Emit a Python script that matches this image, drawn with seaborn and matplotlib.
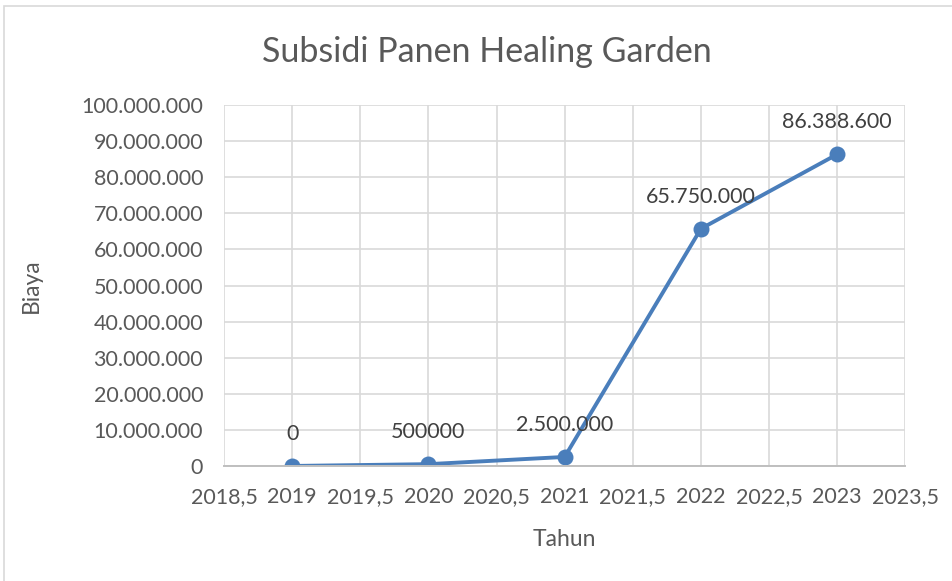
import seaborn as sns
import pandas as pd
import matplotlib.pyplot as plt
from matplotlib.ticker import FuncFormatter, MultipleLocator
from matplotlib.patches import Rectangle

tahun = [2019, 2020, 2021, 2022, 2023]
biaya = [0, 500000, 2500000, 65750000, 86388600]
label_titik = ["0", "500000", "2.500.000", "65.750.000", "86.388.600"]

df = pd.DataFrame({"Tahun": tahun, "Biaya": biaya})

sns.set_theme(style="whitegrid")
plt.rcParams['font.family'] = ['Lato', 'DejaVu Sans']

teks = "#595959"
biru = "#4A7EBB"

fig = plt.figure(figsize=(9.53, 5.81), dpi=100)
ax = fig.add_axes([0.235, 0.198, 0.715, 0.621])

sns.lineplot(data=df, x="Tahun", y="Biaya", ax=ax, color=biru, linewidth=2.8,
             marker="o", markersize=11.5, markeredgewidth=0)

for x, y, t in zip(tahun, biaya, label_titik):
	ax.annotate(t, (x, y), xytext=(0, 23), textcoords="offset points",
				ha="center", va="center", fontsize=15.5, color="#404040")

ax.set_xlim(2018.5, 2023.5)
ax.set_ylim(0, 100000000)
ax.xaxis.set_major_locator(MultipleLocator(0.5))
ax.yaxis.set_major_locator(MultipleLocator(10000000))
ax.xaxis.set_major_formatter(FuncFormatter(lambda v, p: ("%g" % v).replace(".", ",")))
ax.yaxis.set_major_formatter(FuncFormatter(lambda v, p: "{:,.0f}".format(v).replace(",", ".")))

ax.grid(True, color="#D9D9D9", linewidth=1.2)
for s in ["top", "right", "left"]:
	ax.spines[s].set_visible(False)
ax.spines["bottom"].set_color("#BFBFBF")
ax.spines["bottom"].set_linewidth(1.4)
ax.tick_params(axis="y", labelsize=15.5, labelcolor=teks, length=0, pad=15)
ax.tick_params(axis="x", labelsize=15.5, labelcolor=teks, length=0, pad=15)

ax.set_xlabel("Tahun", fontsize=16.5, color=teks, labelpad=16)
ax.set_ylabel("Biaya", fontsize=16.5, color=teks, labelpad=28)
fig.suptitle("Subsidi Panen Healing Garden", x=0.511, y=0.938, fontsize=24.5, color=teks)

fig.patches.append(Rectangle((4 / 953, -0.1), 1.2, 1.1 - 6 / 581, transform=fig.transFigure,
							 fill=False, edgecolor="#D9D9D9", linewidth=1.2))

fig.savefig("out.png", dpi=100)
